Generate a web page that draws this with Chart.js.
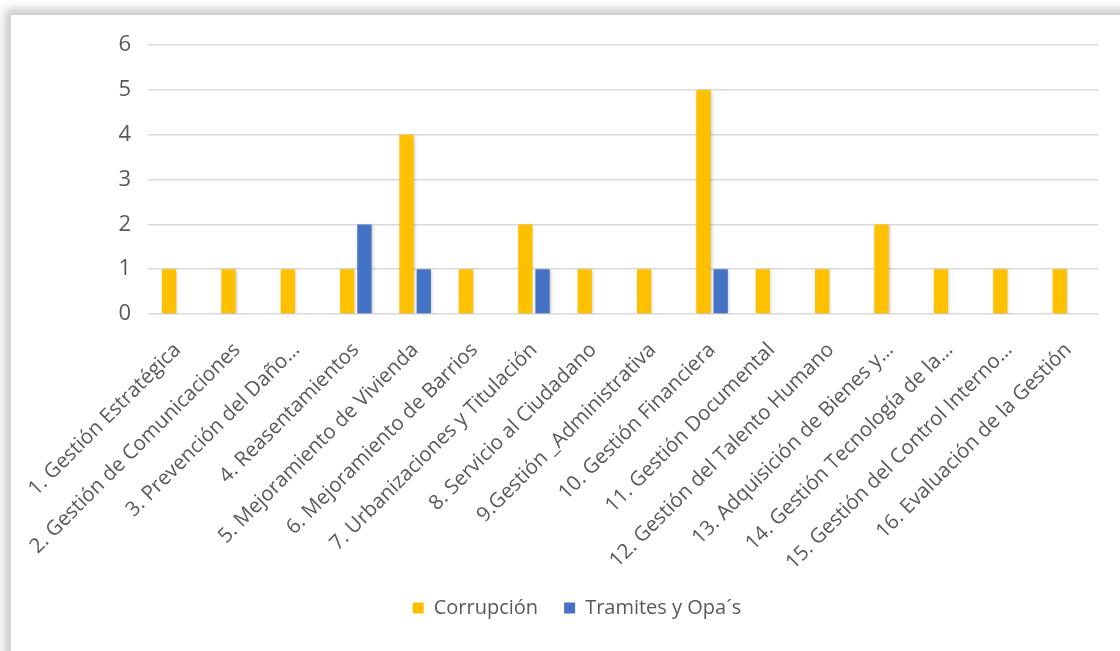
<!DOCTYPE html>
<html>
<head>
<meta charset="utf-8">
<script src="https://cdn.jsdelivr.net/npm/chart.js@4/dist/chart.umd.min.js"></script>
<style>
  body { margin: 0; background: #fff; width: 1120px; height: 651px; overflow: hidden; }
  #card {
    position: absolute; left: 10px; top: 14px; width: 1140px; height: 660px;
    border: 1px solid #d0d0d0; box-shadow: -5px -5px 9px rgba(0,0,0,0.22); background: #fff;
  }
  #wrap { position: absolute; left: 0; top: 0; width: 1109px; height: 636px; }
</style>
</head>
<body>
<div id="card"><div id="wrap"><canvas id="myChart"></canvas></div></div>
<script>
const categories = [
  '1. Gestión Estratégica',
  '2. Gestión de Comunicaciones',
  '3. Prevención del Daño…',
  '4. Reasentamientos',
  '5. Mejoramiento de Vivienda',
  '6. Mejoramiento de Barrios',
  '7. Urbanizaciones y Titulación',
  '8. Servicio al Ciudadano',
  '9.Gestión _Administrativa',
  '10. Gestión Financiera',
  '11. Gestión Documental',
  '12. Gestión del Talento Humano',
  '13. Adquisición de Bienes y…',
  '14. Gestión Tecnología de la…',
  '15. Gestión del Control Interno…',
  '16. Evaluación de la Gestión'
];
const corrupcion = [1, 1, 1, 1, 4, 1, 2, 1, 1, 5, 1, 1, 2, 1, 1, 1];
const tramites   = [0, 0, 0, 2, 1, 0, 1, 0, 0, 1, 0, 0, 0, 0, 0, 0];
const yTicks = [0, 1, 2, 3, 4, 5, 6];

const fontFam = '"Open Sans", "Noto Sans", sans-serif';
const txt = '#595959';

// soft shadow under the bars, like the office chart
const barShadow = {
  id: 'barShadow',
  beforeDatasetsDraw(chart) {
    const c = chart.ctx;
    c.save();
    c.shadowColor = 'rgba(0,0,0,0.22)';
    c.shadowBlur = 3;
    c.shadowOffsetX = 1;
    c.shadowOffsetY = 1;
  },
  afterDatasetsDraw(chart) {
    chart.ctx.restore();
  }
};

const ctx = document.getElementById('myChart');

new Chart(ctx, {
  type: 'bar',
  data: {
    labels: categories,
    datasets: [{
      label: 'Corrupción',
      data: corrupcion,
      backgroundColor: '#FFC000',
      categoryPercentage: 0.58,
      barPercentage: 0.83
    }, {
      label: 'Tramites y Opa´s',
      data: tramites,
      backgroundColor: '#4472C4',
      categoryPercentage: 0.58,
      barPercentage: 0.83
    }]
  },
  options: {
    responsive: true,
    maintainAspectRatio: false,
    animation: false,
    layout: { padding: { left: 45, right: 22, top: 29, bottom: 23 } },
    plugins: {
      tooltip: { enabled: false },
      legend: {
        position: 'bottom',
        labels: {
          boxWidth: 11,
          boxHeight: 11,
          padding: 26,
          color: txt,
          font: { family: fontFam, size: 20 }
        }
      }
    },
    scales: {
      x: {
        grid: { display: false },
        border: { display: false },
        ticks: {
          color: txt,
          font: { family: fontFam, size: 20.5 },
          minRotation: 45,
          maxRotation: 45,
          autoSkip: false,
          padding: 16
        },
        afterFit(scale) { scale.height = 258; }
      },
      y: {
        min: 0,
        max: 6,
        afterBuildTicks(scale) { scale.ticks = yTicks.map(v => ({ value: v })); },
        grid: { color: '#d9d9d9', lineWidth: 1.5, drawTicks: false },
        border: { display: false },
        ticks: {
          color: txt,
          font: { family: fontFam, size: 22 },
          padding: 17
        },
        afterFit(scale) { scale.width = 92; }
      }
    }
  },
  plugins: [barShadow]
});
</script>
</body>
</html>
